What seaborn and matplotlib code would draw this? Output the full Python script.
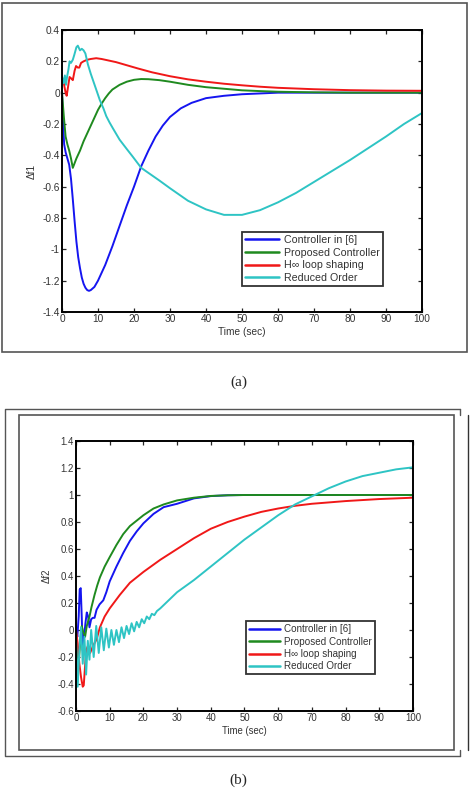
import numpy as np
import matplotlib
matplotlib.use('Agg')
import matplotlib.pyplot as plt
from matplotlib.lines import Line2D
from matplotlib.patches import Rectangle
from matplotlib.ticker import FuncFormatter
import seaborn as sns

# Etiquetas comunes
labels = ['Controller in [6]', 'Proposed Controller', 'H\u221e loop shaping', 'Reduced Order']
colors = ['#1515f0', '#1f8a1f', '#f01818', '#2ec4c4']

# ---------------- Panel (a): delta f1 ----------------
t_b1 = [0, 0.3, 0.6, 1.0, 1.5, 2.0, 2.5, 3.0, 3.5, 4.0, 4.5, 5.0, 5.5, 6.0, 6.5, 7.0, 7.5, 8.0, 9.0, 10,
        12, 14, 16, 18, 20, 22, 24, 26, 28, 30, 33, 36, 40, 45, 50, 55, 60, 70, 80, 90, 100]
y_b1 = [0, -0.2, -0.33, -0.38, -0.42, -0.46, -0.55, -0.68, -0.82, -0.95, -1.05, -1.12, -1.18, -1.22, -1.245,
        -1.26, -1.265, -1.26, -1.24, -1.2, -1.1, -0.98, -0.85, -0.72, -0.6, -0.47, -0.37, -0.28, -0.21,
        -0.155, -0.1, -0.065, -0.035, -0.02, -0.01, -0.005, 0, 0, 0, 0, 0]

t_g1 = [0, 0.5, 1.0, 1.5, 2.0, 2.5, 3.0, 3.5, 4.0, 5.0, 6.0, 7.0, 8.0, 9.0, 10, 11, 12, 13, 14, 16, 18,
        20, 22, 24, 27, 30, 35, 40, 45, 50, 55, 60, 70, 80, 90, 100]
y_g1 = [0, -0.15, -0.28, -0.33, -0.37, -0.42, -0.48, -0.45, -0.42, -0.37, -0.31, -0.26, -0.21, -0.16,
        -0.11, -0.07, -0.035, -0.005, 0.02, 0.05, 0.07, 0.082, 0.087, 0.086, 0.08, 0.07, 0.05, 0.035,
        0.025, 0.015, 0.01, 0.006, 0.002, 0, 0, 0]

t_r1 = [0, 0.5, 1.0, 1.3, 1.7, 2.1, 2.6, 3.0, 3.5, 3.9, 4.4, 4.8, 5.3, 6, 7, 8, 9.5, 11, 13, 15, 18, 21,
        25, 30, 35, 40, 45, 50, 55, 60, 70, 80, 90, 100]
y_r1 = [0.1, 0.06, 0.0, -0.02, 0.04, 0.1, 0.09, 0.08, 0.14, 0.17, 0.16, 0.16, 0.19, 0.2, 0.21, 0.215,
        0.22, 0.215, 0.205, 0.195, 0.175, 0.155, 0.13, 0.105, 0.085, 0.07, 0.057, 0.047, 0.038, 0.031,
        0.022, 0.016, 0.013, 0.012]

t_c1 = [0, 0.4, 0.8, 1.1, 1.4, 1.8, 2.1, 2.5, 3.0, 3.4, 4.0, 4.4, 5.0, 5.5, 6.0, 6.5, 7.2, 8.0, 8.6, 9.5,
        10.5, 11.5, 12.3, 13.2, 14.2, 16, 18, 19.7, 22, 24.5, 27, 30, 35, 40, 45, 50, 55, 60, 65, 70,
        75, 80, 85, 90, 95, 100]
y_c1 = [0.1, 0.06, 0.11, 0.05, 0.1, 0.15, 0.2, 0.19, 0.21, 0.24, 0.29, 0.3, 0.27, 0.28, 0.27, 0.25, 0.18,
        0.12, 0.08, 0.02, -0.047, -0.1, -0.15, -0.19, -0.23, -0.3, -0.36, -0.41, -0.48, -0.52, -0.56,
        -0.61, -0.69, -0.745, -0.78, -0.78, -0.75, -0.7, -0.64, -0.57, -0.5, -0.43, -0.355, -0.28,
        -0.2, -0.13]

# ---------------- Panel (b): delta f2 ----------------
t_b2 = [0, 0.4, 0.8, 1.1, 1.4, 1.7, 2.0, 2.4, 2.8, 3.2, 3.6, 4.0, 4.5, 5.0, 5.5, 6.1, 7, 8.1, 9, 10, 12,
        14, 16, 18, 20, 23, 26, 30, 35, 40, 45, 50, 60, 70, 80, 90, 100]
y_b2 = [0, -0.05, 0.1, 0.3, 0.31, 0.1, -0.15, -0.05, 0.05, 0.13, 0.1, 0.02, 0.08, 0.09, 0.09, 0.15, 0.19,
        0.22, 0.28, 0.36, 0.47, 0.57, 0.66, 0.73, 0.79, 0.86, 0.91, 0.935, 0.975, 0.992, 0.998, 1.0,
        1.0, 1.0, 1.0, 1.0, 1.0]

t_g2 = [0, 0.4, 0.8, 1.2, 1.7, 2.2, 2.7, 3.2, 4.0, 4.6, 5.5, 6.3, 7.1, 8.5, 10, 12, 14, 16, 18, 20, 23,
        26, 30, 35, 40, 45, 50, 60, 70, 80, 90, 100]
y_g2 = [0, -0.15, -0.25, -0.1, 0.03, -0.02, -0.05, 0.03, 0.1, 0.17, 0.26, 0.33, 0.39, 0.47, 0.54, 0.63,
        0.71, 0.77, 0.81, 0.85, 0.9, 0.93, 0.96, 0.98, 0.993, 0.998, 1.0, 1.0, 1.0, 1.0, 1.0, 1.0]

t_r2 = [0, 0.5, 1.0, 1.5, 2.0, 2.3, 2.6, 3.0, 3.5, 4.2, 5.0, 6.1, 7.1, 8.5, 10, 13, 16, 20, 25, 30, 35,
        40, 45, 50, 55, 60, 65, 70, 80, 90, 100]
y_r2 = [0, -0.1, -0.25, -0.35, -0.42, -0.41, -0.3, -0.15, -0.12, -0.17, -0.12, -0.07, 0.02, 0.1, 0.16,
        0.26, 0.35, 0.43, 0.52, 0.6, 0.68, 0.75, 0.8, 0.84, 0.875, 0.9, 0.92, 0.935, 0.955, 0.97, 0.98]

t_c2 = [0, 0.5, 1.0, 1.5, 2.0, 2.5, 3.0, 3.5, 4.0, 4.5, 5.25, 6.0, 6.75, 7.5, 8.25, 9.0, 9.75, 10.5,
        11.25, 12.0, 12.75, 13.5, 14.25, 15.0, 15.75, 16.5, 17.25, 18.0, 18.75, 19.5, 20.25, 21.0,
        21.75, 22.5, 23.25, 24.0, 25, 30, 35, 40, 45, 50, 55, 60, 65, 70, 75, 80, 85, 90, 95, 100]
y_c2 = [-0.05, -0.42, -0.15, 0.02, -0.25, -0.05, -0.33, -0.08, -0.22, 0.0, -0.2, 0.03, -0.17, 0.02,
        -0.15, 0.01, -0.13, 0.0, -0.11, 0.0, -0.09, 0.02, -0.06, 0.03, -0.03, 0.05, -0.01, 0.06, 0.02,
        0.08, 0.05, 0.1, 0.08, 0.12, 0.11, 0.14, 0.16, 0.28, 0.37, 0.47, 0.57, 0.67, 0.76, 0.85, 0.93,
        0.99, 1.05, 1.1, 1.14, 1.165, 1.19, 1.205]

x_ticks = list(range(0, 101, 10))
y_ticks_a = [-1.4, -1.2, -1.0, -0.8, -0.6, -0.4, -0.2, 0, 0.2, 0.4]
y_ticks_b = [-0.6, -0.4, -0.2, 0, 0.2, 0.4, 0.6, 0.8, 1.0, 1.2, 1.4]

sns.set_style('ticks')
plt.rcParams['font.family'] = ['Liberation Sans', 'DejaVu Sans']
plt.rcParams['axes.unicode_minus'] = False

W, H = 477, 791
fig = plt.figure(figsize=(W / 100, H / 100), dpi=100)


def fx(px):
    return px / W


def fy(py):
    return 1 - py / H


def draw_panel(ax, series, y_ticks, ylab, fs, lfs, leg_anchor):
    for (t, y), lbl, c in zip(series, labels, colors):
        sns.lineplot(x=t, y=y, ax=ax, color=c, lw=1.4, label=lbl, sort=False, estimator=None)
    ax.set_xlim(0, 100)
    ax.set_ylim(y_ticks[0], y_ticks[-1])
    ax.set_xticks(x_ticks)
    ax.set_yticks(y_ticks)
    ax.xaxis.set_major_formatter(FuncFormatter(lambda v, p: '%g' % round(v, 2)))
    ax.yaxis.set_major_formatter(FuncFormatter(lambda v, p: '%g' % round(v, 2)))
    ax.tick_params(direction='in', top=True, right=True, length=3, width=0.9,
                   labelsize=fs, labelcolor='#333333', pad=1.5)
    for s in ax.spines.values():
        s.set_linewidth(1.4)
        s.set_color('black')
    ax.set_xlabel('Time (sec)', fontsize=fs, color='#333333', labelpad=2)
    ax.set_ylabel(ylab, fontsize=fs, color='#333333', labelpad=4)
    leg = ax.legend(loc='upper left', bbox_to_anchor=leg_anchor, fontsize=lfs, frameon=True,
                    fancybox=False, handlelength=3.2, handletextpad=0.4, borderpad=0.3,
                    labelspacing=0.25, borderaxespad=0)
    leg.get_frame().set_edgecolor('black')
    leg.get_frame().set_linewidth(1.3)
    for txt in leg.get_texts():
        txt.set_color('#333333')
    for h in leg.get_lines():
        h.set_linewidth(1.8)


# Panel (a)
ax1 = fig.add_axes([fx(62), fy(312), fx(360), 282 / H])
draw_panel(ax1, [(t_b1, y_b1), (t_g1, y_g1), (t_r1, y_r1), (t_c1, y_c1)], y_ticks_a,
           '\u0394f1', 7.3, 7.7, (0.5, 0.284))

# Panel (b)
ax2 = fig.add_axes([fx(76), fy(711), fx(337), 270 / H])
draw_panel(ax2, [(t_b2, y_b2), (t_g2, y_g2), (t_r2, y_r2), (t_c2, y_c2)], y_ticks_b,
           '\u0394f2', 6.9, 7.1, (0.504, 0.333))

# Marcos alrededor de los paneles
frame_col = '#555555'
fig.patches.append(Rectangle((fx(2), fy(352)), fx(465), 349 / H, transform=fig.transFigure,
                             fill=False, edgecolor=frame_col, lw=1.2))
fig.patches.append(Rectangle((fx(19), fy(750)), fx(435), 335 / H, transform=fig.transFigure,
                             fill=False, edgecolor=frame_col, lw=1.2))
fig.lines.append(Line2D([fx(460), fx(5), fx(5), fx(460)], [fy(409), fy(409), fy(756), fy(756)],
                        transform=fig.transFigure, color=frame_col, lw=1.0))
fig.lines.append(Line2D([fx(460), fx(460)], [fy(409), fy(415)], transform=fig.transFigure,
                        color=frame_col, lw=1.0))
fig.lines.append(Line2D([fx(460), fx(460)], [fy(750), fy(756)], transform=fig.transFigure,
                        color=frame_col, lw=1.0))
fig.lines.append(Line2D([fx(468), fx(468)], [fy(415), fy(750)], transform=fig.transFigure,
                        color='#333333', lw=1.0))

fig.text(0.5, fy(382), '(a)', ha='center', va='center', fontsize=11, family='Liberation Serif')
fig.text(0.5, fy(780), '(b)', ha='center', va='center', fontsize=11, family='Liberation Serif')

fig.savefig('out.png', dpi=100)
plt.close()
